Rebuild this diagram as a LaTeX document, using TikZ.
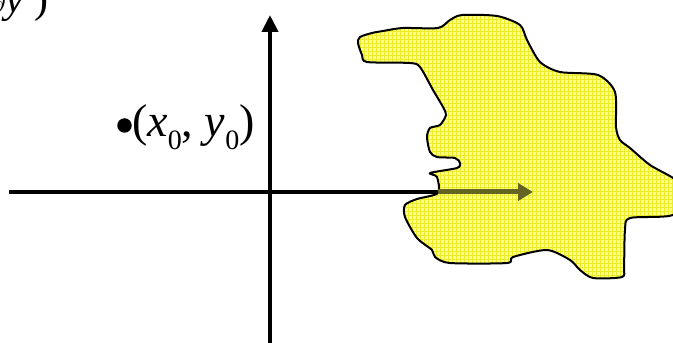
\documentclass[tikz,border=0pt]{standalone}
\usepackage{fontspec}
\setmainfont{Liberation Serif}
\usetikzlibrary{arrows.meta}
\definecolor{blobfill}{RGB}{255,255,140}
\definecolor{blobgrid}{RGB}{235,235,40}
\definecolor{arrowgray}{RGB}{100,100,35}
\newcommand{\subz}{\raisebox{-0.28em}{\fontsize{28}{28}\selectfont 0}}
\tikzset{
  axisline/.style={line width=4pt, draw=black},
  labeltext/.style={inner sep=0pt, font=\fontsize{46}{46}\selectfont},
}
\begin{document}
\begin{tikzpicture}[x=1pt,y=1pt]
\useasboundingbox (0,0) rectangle (673,343);
% blob
\def\blobpath{plot[smooth cycle, tension=0.45] coordinates {
(358,300) (360,306) (372,310) (383,312) (403,315) (438,315) (450,323) (462,328)
(497,327) (520,318) (527,303) (540,281) (560,271) (598,268) (615,251) (616,216)
(620,203) (630,195) (650,178) (673,165) (690,150) (673,128) (630,125) (625,113) (624,76)
(622,66) (593,65) (580,73) (570,83) (547,93) (513,86) (507,80) (450,80)
(435,86) (432,93) (417,105) (405,126) (405,138) (417,144) (438,150)
(437,166) (430,170) (457,175) (460,180) (455,185) (437,186) (430,191)
(427,206) (430,215) (440,218) (446,228) (443,236) (433,253) (420,276)
(410,280) (367,281) (362,288)}}
\begin{scope}
  \clip \blobpath;
  \fill[blobfill] (340,0) rectangle (700,343);
  \draw[blobgrid, line width=0.5pt, step=4pt] (340,0) grid (700,343);
\end{scope}
\draw[line width=2pt, line join=round] \blobpath;
% axes
\coordinate (xstart) at (9,151);
\coordinate (origin) at (270,151);
\coordinate (xend) at (438,151);
\coordinate (ystart) at (270,-2);
\coordinate (ytip) at (270,328);
\coordinate (gtip) at (533,151);
\draw[axisline] (xstart) -- (xend);
\draw[axisline, -{Triangle[length=17pt,width=16pt]}] (ystart) -- (ytip);
\draw[arrowgray, line width=5pt, -{Triangle[length=15pt,width=17pt]}] (xend) -- (gtip);
% labels
\node[circle, fill=black, inner sep=0pt, minimum size=14.5pt] (dot) at (124.5,217.5) {};
\node[labeltext, anchor=base west] (pt) at (132,206) {(\textit{x}\subz, \textit{y}\subz)};
\node[labeltext, anchor=base west, font=\fontsize{42}{42}\selectfont] (top) at (-9,330) {$\partial$\textit{y} )};
\end{tikzpicture}
\end{document}
